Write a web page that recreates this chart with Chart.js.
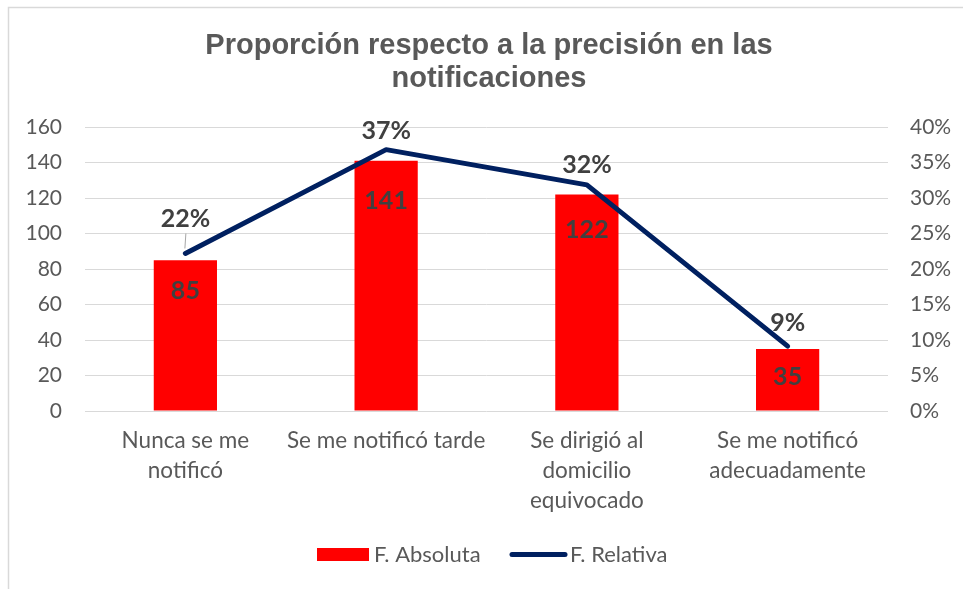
<!DOCTYPE html>
<html>
<head>
<meta charset="utf-8">
<script src="https://cdn.jsdelivr.net/npm/chart.js@4/dist/chart.umd.min.js"></script>
<style>
html,body{margin:0;padding:0;background:#fff;}
#wrap{width:963px;height:589px;}
</style>
</head>
<body>
<div id="wrap"><canvas id="c" width="963" height="589"></canvas></div>
<script>
const titleLines = ["Proporción respecto a la precisión en las", "notificaciones"];
const categories = [["Nunca se me", "notificó"], ["Se me notificó tarde"], ["Se dirigió al", "domicilio", "equivocado"], ["Se me notificó", "adecuadamente"]];
const absLabel = "F. Absoluta";
const relLabel = "F. Relativa";
const absValues = [85, 141, 122, 35];
const relValues = [0.2219, 0.3681, 0.3185, 0.0914];
const leftTicks = [0, 20, 40, 60, 80, 100, 120, 140, 160];
const rightTicks = [0, 0.05, 0.10, 0.15, 0.20, 0.25, 0.30, 0.35, 0.40];

const RED = '#ff0000';
const NAVY = '#002060';
const GRID = '#d9d9d9';
const TXT = '#595959';
const LBL = '#404040';
const FONT = 'Lato';
const barLabelOffsets = [31, 40, 35, 28];
const lineLabelOffsets = [35, 19, 20, 23];

const frame = {
  id: 'frame',
  beforeDraw(chart) {
    const ctx = chart.ctx;
    ctx.save();
    ctx.fillStyle = '#fff';
    ctx.fillRect(0, 0, chart.width, chart.height);
    ctx.strokeStyle = GRID;
    ctx.lineWidth = 1.5;
    ctx.strokeRect(8.5, 7.5, 1200, 1200);
    ctx.fillStyle = TXT;
    ctx.font = 'bold 29px "Liberation Sans", Arial, sans-serif';
    ctx.textAlign = 'center';
    ctx.textBaseline = 'middle';
    ctx.fillText(titleLines[0], 489, 46);
    ctx.fillText(titleLines[1], 489, 79);
    ctx.restore();
  },
  afterDatasetsDraw(chart) {
    const ctx = chart.ctx;
    ctx.save();
    const barMeta = chart.getDatasetMeta(1);
    const lineMeta = chart.getDatasetMeta(0);
    ctx.textAlign = 'center';
    ctx.textBaseline = 'middle';
    ctx.fillStyle = LBL;
    ctx.font = 'bold 25px ' + FONT;
    barMeta.data.forEach((el, i) => {
      ctx.fillText(String(absValues[i]), el.x, el.y + barLabelOffsets[i]);
    });
    lineMeta.data.forEach((el, i) => {
      const txt = Math.round(relValues[i] * 100) + '%';
      if (i === 0) {
        ctx.strokeStyle = '#a6a6a6';
        ctx.lineWidth = 1;
        ctx.beginPath();
        ctx.moveTo(el.x + 0.5, el.y - 20);
        ctx.lineTo(el.x - 0.5, el.y - 5);
        ctx.stroke();
      }
      ctx.fillText(txt, el.x, el.y - lineLabelOffsets[i]);
    });
    ctx.font = '22px ' + FONT;
    ctx.textAlign = 'left';
    ctx.fillStyle = RED;
    ctx.fillRect(317, 548, 52, 13);
    ctx.fillStyle = TXT;
    ctx.fillText(absLabel, 374, 555);
    ctx.strokeStyle = NAVY;
    ctx.lineWidth = 5;
    ctx.lineCap = 'round';
    ctx.beginPath();
    ctx.moveTo(512, 554.5);
    ctx.lineTo(565, 554.5);
    ctx.stroke();
    ctx.fillText(relLabel, 570, 555);
    ctx.restore();
  }
};

new Chart(document.getElementById('c'), {
  data: {
    labels: categories,
    datasets: [
      {
        type: 'line',
        label: relLabel,
        data: relValues,
        yAxisID: 'y1',
        borderColor: NAVY,
        backgroundColor: NAVY,
        borderWidth: 5,
        borderCapStyle: 'round',
        borderJoinStyle: 'round',
        pointRadius: 0,
        tension: 0,
        order: 0
      },
      {
        type: 'bar',
        label: absLabel,
        data: absValues,
        yAxisID: 'y',
        backgroundColor: RED,
        borderWidth: 0,
        barPercentage: 0.315,
        categoryPercentage: 1,
        order: 1
      }
    ]
  },
  options: {
    responsive: false,
    animation: false,
    devicePixelRatio: 1,
    layout: { padding: { top: 127, left: 0, right: 0, bottom: 0 } },
    plugins: { legend: { display: false }, title: { display: false }, tooltip: { enabled: false } },
    scales: {
      x: {
        offset: true,
        grid: { display: false, drawTicks: false },
        border: { display: false },
        ticks: { color: TXT, font: { family: FONT, size: 22.5, lineHeight: 1.32 }, padding: 15, maxRotation: 0, autoSkip: false },
        afterFit(s) { s.height = 178; }
      },
      y: {
        position: 'left',
        min: 0, max: 160,
        afterBuildTicks(s) { s.ticks = leftTicks.map(v => ({ value: v })); },
        grid: { color: GRID, lineWidth: 1, drawTicks: false },
        border: { display: false },
        ticks: { color: TXT, font: { family: FONT, size: 21 }, padding: 23 },
        afterFit(s) { s.width = 85; }
      },
      y1: {
        position: 'right',
        min: 0, max: 0.4,
        afterBuildTicks(s) { s.ticks = rightTicks.map(v => ({ value: v })); },
        grid: { drawOnChartArea: false, drawTicks: false },
        border: { display: false },
        ticks: { color: TXT, font: { family: FONT, size: 21 }, padding: 22, callback: v => Math.round(v * 100) + '%' },
        afterFit(s) { s.width = 75; }
      }
    }
  },
  plugins: [frame]
});
</script>
</body>
</html>
